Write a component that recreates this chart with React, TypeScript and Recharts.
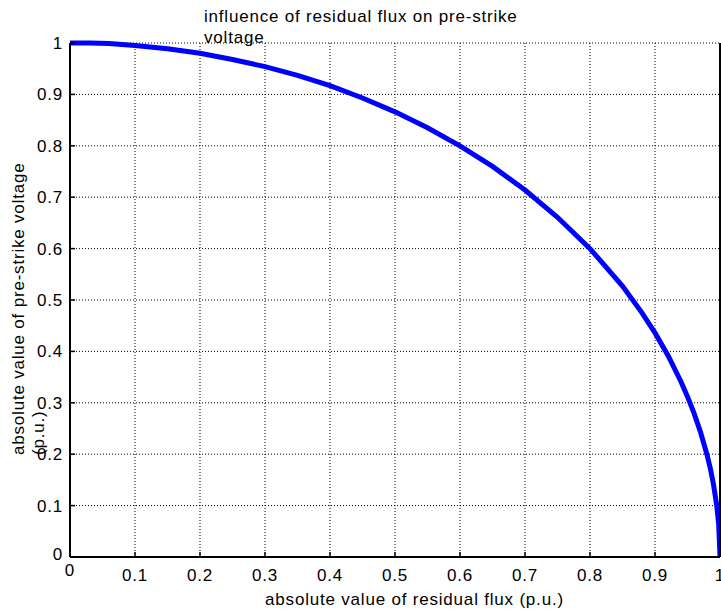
import React from 'react';
import { LineChart, Line, XAxis, YAxis, CartesianGrid } from 'recharts';

const fluxValues = [0, 0.03, 0.06, 0.08, 0.1, 0.15, 0.2, 0.25, 0.3, 0.35, 0.4, 0.45, 0.5, 0.55, 0.6, 0.65, 0.7, 0.75, 0.8, 0.85, 0.88, 0.9, 0.92, 0.94, 0.95, 0.96, 0.97, 0.98, 0.985, 0.99, 0.995, 0.998, 1.0];
const voltageValues = [1, 1, 0.999, 0.997, 0.995, 0.989, 0.98, 0.968, 0.954, 0.937, 0.917, 0.893, 0.866, 0.835, 0.8, 0.76, 0.714, 0.661, 0.6, 0.527, 0.475, 0.436, 0.392, 0.341, 0.312, 0.28, 0.243, 0.199, 0.173, 0.141, 0.1, 0.063, 0];
const xTicks = [0, 0.1, 0.2, 0.3, 0.4, 0.5, 0.6, 0.7, 0.8, 0.9, 1];
const yTicks = [0, 0.1, 0.2, 0.3, 0.4, 0.5, 0.6, 0.7, 0.8, 0.9, 1];
const titleLines = ['influence of residual flux on pre-strike', 'voltage'];
const xLabel = 'absolute value of residual flux (p.u.)';
const yLabelLines = ['absolute value of pre-strike voltage', '(p.u.)'];

const data = fluxValues.map((x, i) => ({ x, y: voltageValues[i] }));

const FONT = '"Liberation Sans", Arial, sans-serif';
const FS = 17;
const LS = 0.8;

const XTick = (props: any) => {
  const { x, y, payload } = props;
  const v = payload.value;
  return (
    <text x={x} y={y + (v === 0 ? 19 : 24)} textAnchor="middle" fontFamily={FONT} fontSize={FS} letterSpacing={LS} fill="#000">
      {String(v)}
    </text>
  );
};

const YTick = (props: any) => {
  const { x, y, payload } = props;
  const v = payload.value;
  return (
    <text x={x - 7} y={y + (v === 0 ? 3 : 6)} textAnchor="end" fontFamily={FONT} fontSize={FS} letterSpacing={LS} fill="#000">
      {String(v)}
    </text>
  );
};

const Empty = () => <g />;

export default function App() {
  return (
    <div style={{ position: 'absolute', left: 0, top: 0, width: 721, height: 613, background: '#fff', overflow: 'hidden' }}>
      <LineChart width={721} height={613} data={data} margin={{ top: 43, right: 0, bottom: 0, left: 0 }}>
        <CartesianGrid stroke="#000" strokeDasharray="1 2" strokeWidth={1} />
        <XAxis
          dataKey="x"
          type="number"
          domain={[0, 1]}
          ticks={xTicks}
          interval={0}
          height={56}
          tickSize={-5}
          tickMargin={5}
          tick={<XTick />}
          axisLine={{ stroke: '#000', strokeWidth: 2 }}
          tickLine={{ stroke: '#000', strokeWidth: 1.5 }}
        />
        <XAxis
          xAxisId="top"
          orientation="top"
          type="number"
          dataKey="x"
          domain={[0, 1]}
          ticks={xTicks}
          interval={0}
          height={0}
          tickSize={-5}
          tick={<Empty />}
          axisLine={{ stroke: '#000', strokeWidth: 2.5 }}
          tickLine={{ stroke: '#000', strokeWidth: 1.5 }}
        />
        <YAxis
          type="number"
          domain={[0, 1]}
          ticks={yTicks}
          interval={0}
          width={70}
          tickSize={-5}
          tickMargin={5}
          tick={<YTick />}
          axisLine={{ stroke: '#000', strokeWidth: 2 }}
          tickLine={{ stroke: '#000', strokeWidth: 1.5 }}
        />
        <YAxis
          yAxisId="right"
          orientation="right"
          type="number"
          domain={[0, 1]}
          ticks={yTicks}
          interval={0}
          width={1}
          tickSize={-5}
          tick={<Empty />}
          axisLine={{ stroke: '#000', strokeWidth: 2 }}
          tickLine={{ stroke: '#000', strokeWidth: 1.5 }}
        />
        <Line
          dataKey="y"
          type="linear"
          stroke="#0000ff"
          strokeWidth={5}
          dot={false}
          isAnimationActive={false}
        />
      </LineChart>
      <div style={{ position: 'absolute', left: 204, top: 6, fontFamily: FONT, fontSize: FS, letterSpacing: LS, lineHeight: '21px', color: '#000', whiteSpace: 'nowrap' }}>
        {titleLines.map((t) => (
          <div key={t}>{t}</div>
        ))}
      </div>
      <div style={{ position: 'absolute', left: 0, top: 589, width: 829, textAlign: 'center', fontFamily: FONT, fontSize: FS, letterSpacing: LS, lineHeight: '21px', color: '#000', whiteSpace: 'nowrap' }}>
        {xLabel}
      </div>
      <div
        style={{
          position: 'absolute',
          left: 9,
          top: 455,
          transformOrigin: '0 0',
          transform: 'rotate(-90deg)',
          fontFamily: FONT,
          fontSize: FS,
          letterSpacing: LS,
          lineHeight: '20px',
          color: '#000',
          whiteSpace: 'nowrap',
        }}
      >
        {yLabelLines.map((t) => (
          <div key={t}>{t}</div>
        ))}
      </div>
    </div>
  );
}
